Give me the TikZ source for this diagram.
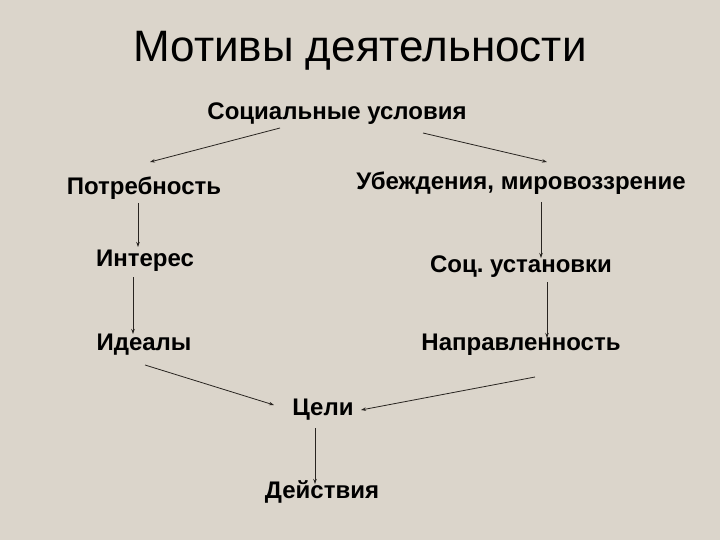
\documentclass[tikz,border=0pt]{standalone}
\usepackage{fontspec}
\setmainfont{Liberation Sans}
\usetikzlibrary{arrows.meta}
\definecolor{bg}{RGB}{219,213,203}
\definecolor{ln}{RGB}{40,36,32}
\frenchspacing
\tikzset{
  lbl/.style={font=\fontsize{24}{28}\selectfont\bfseries, inner sep=0pt, anchor=base},
  conn/.style={draw=ln, line width=0.8pt, -{Stealth[length=5pt,width=3.5pt]}}
}
\begin{document}
\begin{tikzpicture}[x=1pt,y=-1pt]
\fill[bg] (0,0) rectangle (720,540);
\useasboundingbox (0,0) rectangle (720,540);
\node[font=\fontsize{44}{52}\selectfont, inner sep=0pt, anchor=base] (title) at (360,62) {Мотивы деятельности};
\node[lbl] (soc) at (337,120) {Социальные условия};
\node[lbl] (potr) at (144,195) {Потребность};
\node[lbl] (ubezh) at (521,190) {Убеждения, мировоззрение};
\node[lbl] (inter) at (145,266) {Интерес};
\node[lbl] (socu) at (521,272) {Соц. установки};
\node[lbl] (ideal) at (144,350) {Идеалы};
\node[lbl] (napr) at (521,350) {Направленность};
\node[lbl] (celi) at (323,415) {Цели};
\node[lbl] (deyst) at (322,498) {Действия};
\coordinate (a1) at (280,128); \coordinate (a2) at (150,162);
\coordinate (b1) at (423,133); \coordinate (b2) at (547,162);
\coordinate (c1) at (138,203); \coordinate (c2) at (138,247);
\coordinate (d1) at (133,277); \coordinate (d2) at (133,334);
\coordinate (e1) at (541,202); \coordinate (e2) at (541,258);
\coordinate (f1) at (547,282); \coordinate (f2) at (547,338);
\coordinate (g1) at (145,365); \coordinate (g2) at (274,405);
\coordinate (h1) at (535,377); \coordinate (h2) at (361,410);
\coordinate (i1) at (315,428); \coordinate (i2) at (315,484);
\draw[conn] (a1) -- (a2);
\draw[conn] (b1) -- (b2);
\draw[conn] (c1) -- (c2);
\draw[conn] (d1) -- (d2);
\draw[conn] (e1) -- (e2);
\draw[conn] (f1) -- (f2);
\draw[conn] (g1) -- (g2);
\draw[conn] (h1) -- (h2);
\draw[conn] (i1) -- (i2);
\end{tikzpicture}
\end{document}
